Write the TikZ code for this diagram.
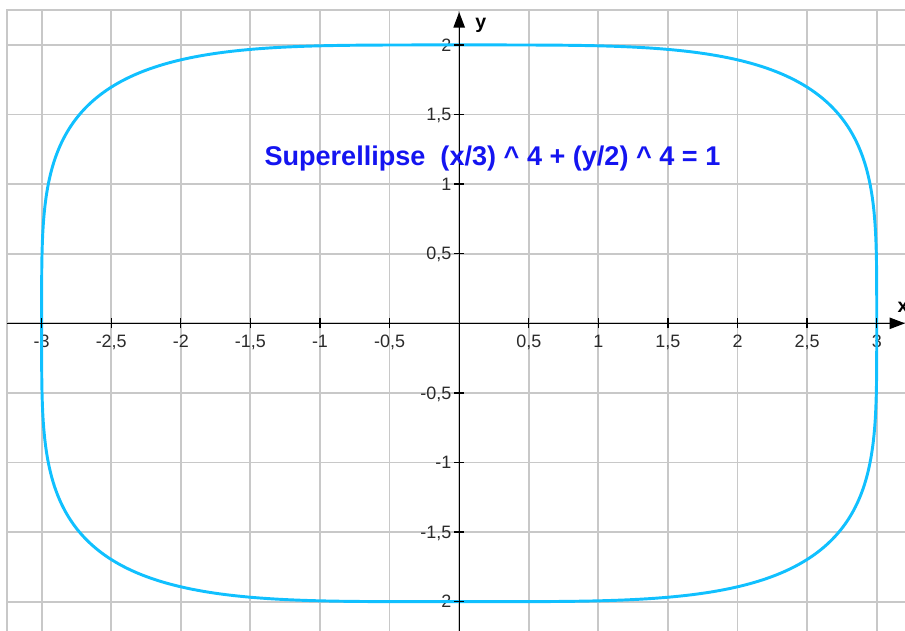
\documentclass[tikz,border=0pt]{standalone}
\usepackage{fontspec}
\setmainfont{Liberation Sans}
\usepackage{xcolor}
\usepackage{tikz}
\usetikzlibrary{arrows.meta}
\definecolor{gridgray}{HTML}{C8C8C8}
\definecolor{curveblue}{HTML}{10C0FF}
\definecolor{titleblue}{HTML}{1414F0}
\definecolor{ticktext}{HTML}{2A2A2A}

\begin{document}
\begin{tikzpicture}[x=3cm, y=3cm,
  gridline/.style={gridgray, line width=1.1pt},
  axisline/.style={black, line width=0.8pt, -{Triangle[length=9.5pt, width=7pt]}},
  ticklabel/.style={text=ticktext, font=\fontsize{11}{13}\selectfont, inner sep=0pt, text depth=0pt},
  axislabel/.style={font=\bfseries\fontsize{12}{14}\selectfont, inner sep=0pt}]
\useasboundingbox (-3.299,-2.210) rectangle (3.203,2.323);

% grid
\draw[gridline] (-3.25,-2.21) -- (-3.25,2.25) -- (3.203,2.25);
\foreach \gx in {-3,-2.5,...,3.1}
  \draw[gridline] (\gx,-2.21) -- (\gx,2.25);
\foreach \gy in {-2,-1.5,...,2.1}
  \draw[gridline] (-3.25,\gy) -- (3.203,\gy);

% tick labels
\foreach \tx/\tl in {-3/-3, -2.5/{-2,5}, -2/-2, -1.5/{-1,5}, -1/-1, -0.5/{-0,5},
                     0.5/{0,5}, 1/1, 1.5/{1,5}, 2/2, 2.5/{2,5}, 3/3}
  \node[ticklabel, anchor=north] (xt\tx) at (\tx,-0.084) {\tl};
\foreach \ty/\tl in {-2/-2, -1.5/{-1,5}, -1/-1, -0.5/{-0,5},
                     0.5/{0,5}, 1/1, 1.5/{1,5}, 2/2}
  \node[ticklabel, anchor=east] (yt\ty) at (-0.054,\ty) {\tl};

% superellipse
\draw[curveblue, line width=1.8pt, line join=round]
  plot[domain=0:90, samples=241] ({3*sqrt(abs(cos(\x)))}, {2*sqrt(abs(sin(\x)))})
  -- plot[domain=90:180, samples=241] ({-3*sqrt(abs(cos(\x)))}, {2*sqrt(abs(sin(\x)))})
  -- plot[domain=180:270, samples=241] ({-3*sqrt(abs(cos(\x)))}, {-2*sqrt(abs(sin(\x)))})
  -- plot[domain=270:360, samples=241] ({3*sqrt(abs(cos(\x)))}, {-2*sqrt(abs(sin(\x)))})
  -- cycle;

% axes
\draw[axisline] (-3.25,0) -- (3.203,0);
\draw[axisline] (0,-2.21) -- (0,2.236);
\foreach \tx in {-3,-2.5,...,3.1}
  \draw[line width=0.8pt] (\tx,0) ++(0,-3pt) -- ++(0,6pt);
\foreach \ty in {-2,-1.5,...,2.1}
  \draw[line width=0.8pt] (0,\ty) ++(-3pt,0) -- ++(6pt,0);
\node[axislabel, anchor=base west] (ylab) at (0.114,2.121) {y};
\node[axislabel, anchor=base west] (xlab) at (3.148,0.081) {x};

% title
\node[text=titleblue, font=\bfseries\fontsize{16.6}{19}\selectfont] (title) at (0.239,1.187)
  {Superellipse\ \ (x/3) \textasciicircum\ 4 + (y/2) \textasciicircum\ 4 = 1};
\end{tikzpicture}
\end{document}
